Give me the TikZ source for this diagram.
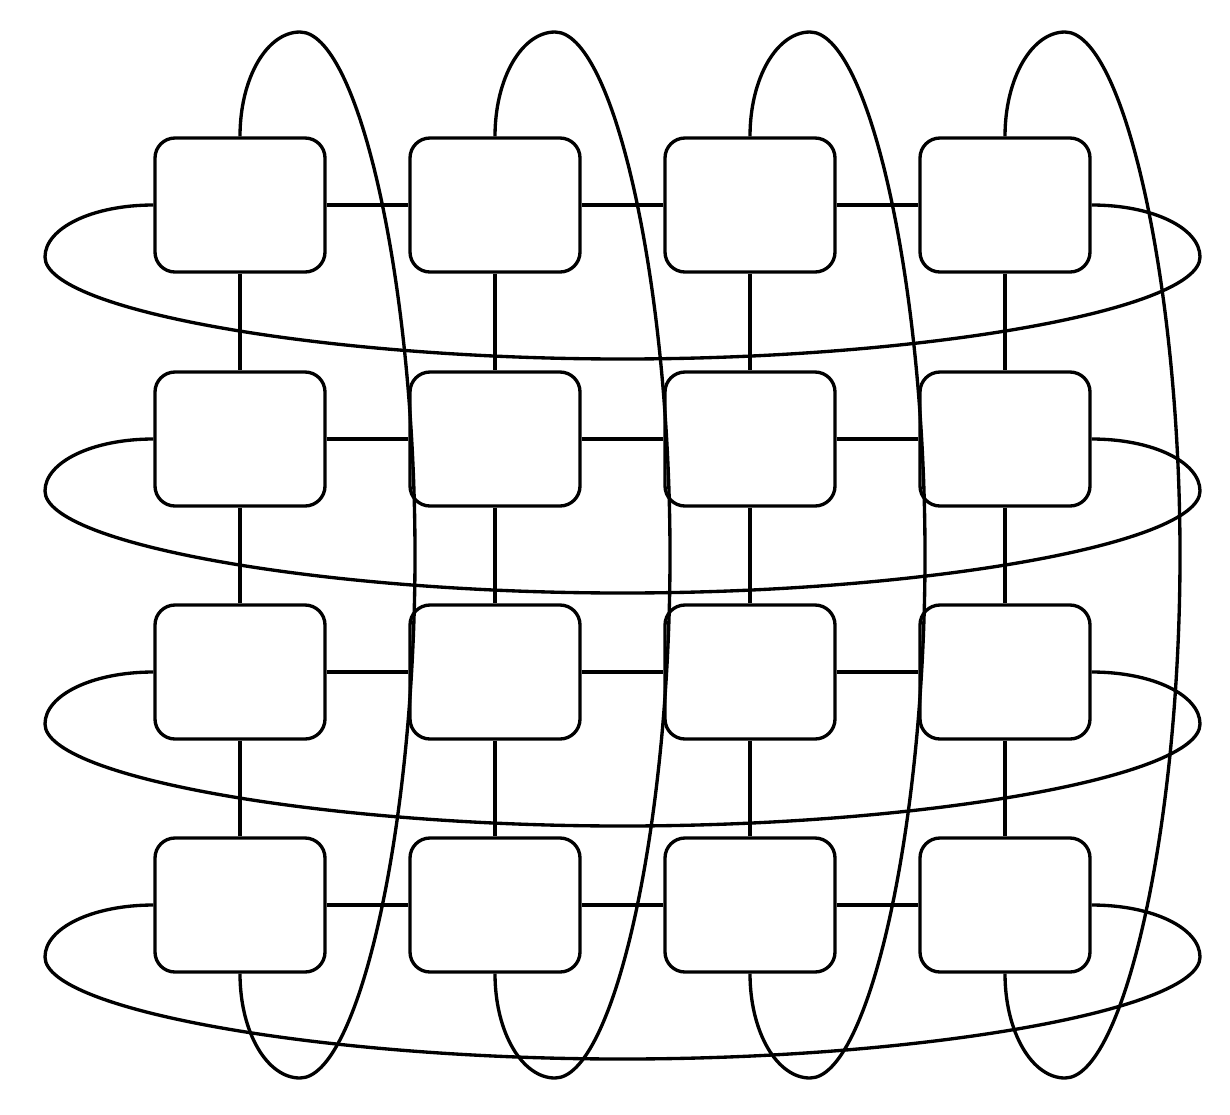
\documentclass[tikz,border=0pt]{standalone}
\usepackage{tikz}
\usetikzlibrary{positioning,calc}

\begin{document}
\begin{tikzpicture}[
                % Style of the nodes
                pe/.style={rectangle, rounded corners=0.2cm, draw=black, line width=0.95pt, minimum width=1.7cm, minimum height=1.34cm, inner sep=0pt},
                % Style of the links
                link/.style={draw=black, line width=0.95pt},
                wrap/.style={draw=black, line width=0.95pt}
            ]
                \useasboundingbox (0,0) rectangle (12.3,-11.14);

                % --- NODES ---
                % Row 1
                \node[pe] (n11) at (2.40, -2.05) {};
                \node[pe] (n12) at (4.95, -2.05) {};
                \node[pe] (n13) at (7.50, -2.05) {};
                \node[pe] (n14) at (10.05, -2.05) {};

                % Row 2
                \node[pe] (n21) at (2.40, -4.39) {};
                \node[pe] (n22) at (4.95, -4.39) {};
                \node[pe] (n23) at (7.50, -4.39) {};
                \node[pe] (n24) at (10.05, -4.39) {};

                % Row 3
                \node[pe] (n31) at (2.40, -6.72) {};
                \node[pe] (n32) at (4.95, -6.72) {};
                \node[pe] (n33) at (7.50, -6.72) {};
                \node[pe] (n34) at (10.05, -6.72) {};

                % Row 4
                \node[pe] (n41) at (2.40, -9.05) {};
                \node[pe] (n42) at (4.95, -9.05) {};
                \node[pe] (n43) at (7.50, -9.05) {};
                \node[pe] (n44) at (10.05, -9.05) {};

                % --- MESH LINKS ---
                % Horizontal
                \draw[link] (n11) -- (n12); \draw[link] (n12) -- (n13); \draw[link] (n13) -- (n14);
                \draw[link] (n21) -- (n22); \draw[link] (n22) -- (n23); \draw[link] (n23) -- (n24);
                \draw[link] (n31) -- (n32); \draw[link] (n32) -- (n33); \draw[link] (n33) -- (n34);
                \draw[link] (n41) -- (n42); \draw[link] (n42) -- (n43); \draw[link] (n43) -- (n44);

                % Vertical
                \draw[link] (n11) -- (n21); \draw[link] (n21) -- (n31); \draw[link] (n31) -- (n41);
                \draw[link] (n12) -- (n22); \draw[link] (n22) -- (n32); \draw[link] (n32) -- (n42);
                \draw[link] (n13) -- (n23); \draw[link] (n23) -- (n33); \draw[link] (n33) -- (n43);
                \draw[link] (n14) -- (n24); \draw[link] (n24) -- (n34); \draw[link] (n34) -- (n44);

                % --- WRAP-AROUND (rows) ---
                \coordinate (l1) at (0.45, -2.57); \coordinate (b1) at (6.225, -3.59); \coordinate (r1) at (12.00, -2.57);
                \coordinate (l2) at (0.45, -4.91); \coordinate (b2) at (6.225, -5.93); \coordinate (r2) at (12.00, -4.91);
                \coordinate (l3) at (0.45, -7.24); \coordinate (b3) at (6.225, -8.26); \coordinate (r3) at (12.00, -7.24);
                \coordinate (l4) at (0.45, -9.57); \coordinate (b4) at (6.225, -10.59); \coordinate (r4) at (12.00, -9.57);

                \draw[wrap] (n11.west) .. controls +(-0.61,0) and +(0,0.29) .. (l1)
                    .. controls +(0,-0.53) and +(-3.0,0) .. (b1)
                    .. controls +(3.0,0) and +(0,-0.53) .. (r1)
                    .. controls +(0,0.29) and +(0.61,0) .. (n14.east);
                \draw[wrap] (n21.west) .. controls +(-0.61,0) and +(0,0.29) .. (l2)
                    .. controls +(0,-0.53) and +(-3.0,0) .. (b2)
                    .. controls +(3.0,0) and +(0,-0.53) .. (r2)
                    .. controls +(0,0.29) and +(0.61,0) .. (n24.east);
                \draw[wrap] (n31.west) .. controls +(-0.61,0) and +(0,0.29) .. (l3)
                    .. controls +(0,-0.53) and +(-3.0,0) .. (b3)
                    .. controls +(3.0,0) and +(0,-0.53) .. (r3)
                    .. controls +(0,0.29) and +(0.61,0) .. (n34.east);
                \draw[wrap] (n41.west) .. controls +(-0.61,0) and +(0,0.29) .. (l4)
                    .. controls +(0,-0.53) and +(-3.0,0) .. (b4)
                    .. controls +(3.0,0) and +(0,-0.53) .. (r4)
                    .. controls +(0,0.29) and +(0.61,0) .. (n44.east);

                % --- WRAP-AROUND (columns) ---
                \coordinate (t1) at (3.00, -0.32); \coordinate (s1) at (4.15, -5.55); \coordinate (u1) at (3.00, -10.78);
                \coordinate (t2) at (5.55, -0.32); \coordinate (s2) at (6.70, -5.55); \coordinate (u2) at (5.55, -10.78);
                \coordinate (t3) at (8.10, -0.32); \coordinate (s3) at (9.25, -5.55); \coordinate (u3) at (8.10, -10.78);
                \coordinate (t4) at (10.65, -0.32); \coordinate (s4) at (11.80, -5.55); \coordinate (u4) at (10.65, -10.78);

                \draw[wrap] (n11.north) .. controls +(0,0.585) and +(-0.33,0) .. (t1)
                    .. controls +(0.58,0) and +(0,2.75) .. (s1)
                    .. controls +(0,-2.75) and +(0.58,0) .. (u1)
                    .. controls +(-0.33,0) and +(0,-0.585) .. (n41.south);
                \draw[wrap] (n12.north) .. controls +(0,0.585) and +(-0.33,0) .. (t2)
                    .. controls +(0.58,0) and +(0,2.75) .. (s2)
                    .. controls +(0,-2.75) and +(0.58,0) .. (u2)
                    .. controls +(-0.33,0) and +(0,-0.585) .. (n42.south);
                \draw[wrap] (n13.north) .. controls +(0,0.585) and +(-0.33,0) .. (t3)
                    .. controls +(0.58,0) and +(0,2.75) .. (s3)
                    .. controls +(0,-2.75) and +(0.58,0) .. (u3)
                    .. controls +(-0.33,0) and +(0,-0.585) .. (n43.south);
                \draw[wrap] (n14.north) .. controls +(0,0.585) and +(-0.33,0) .. (t4)
                    .. controls +(0.58,0) and +(0,2.75) .. (s4)
                    .. controls +(0,-2.75) and +(0.58,0) .. (u4)
                    .. controls +(-0.33,0) and +(0,-0.585) .. (n44.south);

            \end{tikzpicture}
\end{document}
